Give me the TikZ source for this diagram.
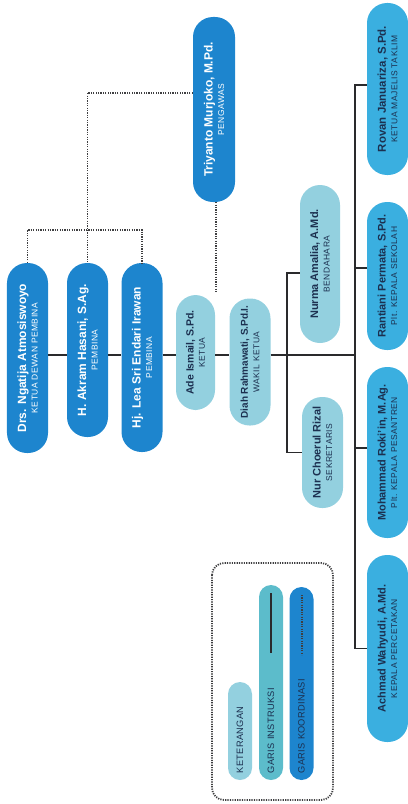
\documentclass[tikz,border=0pt]{standalone}
\usepackage{fontspec}
\setmainfont{Liberation Sans}
\newfontfamily\rolefont[LetterSpace=6]{Liberation Sans}
\newfontfamily\legendfont[LetterSpace=3]{Liberation Sans}
\usepackage{tikz}
\usetikzlibrary{positioning}
\definecolor{Ink}{HTML}{2A2A2C}
\definecolor{Navy}{HTML}{1C3050}
\definecolor{Dark}{HTML}{1D85CE}
\definecolor{Light}{HTML}{93D0DF}
\definecolor{Mid}{HTML}{3AAFE0}
\definecolor{Teal}{HTML}{5CBCCB}
\tikzset{
  pill/.style={rectangle,rounded corners=20bp,rotate=90,minimum height=41bp,inner sep=0pt,align=center,text=Navy,font=\fontsize{8.5}{11.5}\selectfont},
  pilldark/.style={pill,fill=Dark,text=white},
  pilllight/.style={pill,fill=Light},
  pillmid/.style={pill,fill=Mid},
  instr/.style={draw=Ink,line width=1.8bp},
  koord/.style={draw=Ink!90,line width=1.8bp,dash pattern=on 1.2bp off 1.2bp},
  legendpill/.style={rectangle,rounded corners=12bp,rotate=90,minimum height=24bp,inner xsep=7bp,inner ysep=0pt,align=left,text=Navy,font=\legendfont\fontsize{9.3}{10}\selectfont}
}
\newcommand{\nama}[2][12]{{\fontsize{#1}{#1}\selectfont\bfseries #2}}
\newcommand{\jabatan}[1]{{\rolefont #1}}

\begin{document}
\begin{tikzpicture}[x=1bp,y=-1bp]
  \useasboundingbox (0,0) rectangle (407,804);
  % pembina dan pengawas
  \node[pilldark,minimum width=190bp] (drs) at (27.5,358) {\nama{Drs. Ngatija Atmosiswoyo}\\\jabatan{KETUA DEWAN PEMBINA}};
  \node[pilldark,minimum width=174bp] (akram) at (87.5,350) {\nama{H. Akram Hasani, S.Ag.}\\\jabatan{PEMBINA}};
  \node[pilldark,minimum width=189bp] (lea) at (142,357.5) {\nama{Hj. Lea Sri Endari Irawan}\\\jabatan{PEMBINA}};
  \node[pilldark,minimum width=185bp,minimum height=42bp] (triyanto) at (214,109.5) {\nama{Triyanto Murjoko, M.Pd.}\\\jabatan{PENGAWAS}};
  % pengurus harian
  \node[pilllight,minimum width=115bp,minimum height=39bp] (ade) at (195.5,352.5) {\nama[10.5]{Ade Ismail, S.Pd.}\\\jabatan{KETUA}};
  \node[pilllight,minimum width=127bp] (diah) at (250,362) {\nama[10]{Diah Rahmawati, S.Pd.I.}\\\jabatan{WAKIL KETUA}};
  \node[pilllight,minimum width=158bp,minimum height=40bp] (nurma) at (320,264) {\nama[11]{Nurma Amalia, A.Md.}\\\jabatan{BENDAHARA}};
  \node[pilllight,minimum width=111bp] (nur) at (322.5,452.5) {\nama[11]{Nur Choerul Rizal}\\\jabatan{SEKRETARIS}};
  % unit
  \node[pillmid,minimum width=172bp] (rovan) at (387.5,89) {\nama[11.5]{Rovan Januariza, S.Pd.}\\\jabatan{KETUA MAJELIS TAKLIM}};
  \node[pillmid,minimum width=148bp] (rantiani) at (387.5,276) {\nama[11]{Rantiani Permata, S.Pd.}\\\jabatan{Plt. KEPALA SEKOLAH}};
  \node[pillmid,minimum width=171bp] (rokiin) at (387.5,452.5) {\nama[11]{Mohammad Roki'in, M.Ag.}\\\jabatan{Plt. KEPALA PESANTREN}};
  \node[pillmid,minimum width=187bp] (achmad) at (387.5,648.5) {\nama[11]{Achmad Wahyudi, A.Md.}\\\jabatan{KEPALA PERCETAKAN}};
  % garis instruksi
  \coordinate (spine) at (0,355);
  \coordinate (trunk) at (355,85);
  \coordinate (sekolah) at (355,268);
  \coordinate (pesantren) at (355,448);
  \coordinate (bidang) at (287,273);
  \foreach \a/\b in {drs/akram,akram/lea,lea/ade,ade/diah}
    \draw[instr] (\a.south |- spine) -- (\b.north |- spine);
  \draw[instr] (diah.south |- spine) -- (spine -| trunk);
  \draw[instr] (rovan.north |- trunk) -- (trunk) -- (trunk |- achmad.north) -- (achmad.north);
  \draw[instr] (sekolah) -- (sekolah -| rantiani.north);
  \draw[instr] (pesantren) -- (pesantren -| rokiin.north);
  \draw[instr] (bidang -| nurma.north) -- (bidang) |- (nur.north);
  % garis koordinasi
  \coordinate (pengawas) at (87.5,93);
  \coordinate (dewan) at (87.5,230);
  \coordinate (ketua) at (216,293);
  \draw[koord] (triyanto.north |- pengawas) -- (pengawas) -- (dewan);
  \draw[koord] (drs.east) |- (dewan) -| (lea.east);
  \draw[koord] (dewan) -- (akram.east);
  \draw[koord] (triyanto.west -| ketua) -- (ketua);
  % keterangan
  \draw[koord,rounded corners=12bp] (212,563) rectangle (333,800);
  \node[legendpill,fill=Light,minimum width=98bp,text width=84bp] (ket) at (240,731) {KETERANGAN};
  \node[legendpill,fill=Teal,minimum width=195bp,text width=181bp] (garisinstr) at (271,682.5) {GARIS INSTRUKSI};
  \node[legendpill,fill=Dark,minimum width=193bp,text width=179bp] (gariskoord) at (301.5,683.5) {GARIS KOORDINASI};
  \draw[instr] (271,593) -- (271,653);
  \draw[koord,line width=1.3bp] (302,595) -- (302,655);
\end{tikzpicture}
\end{document}
